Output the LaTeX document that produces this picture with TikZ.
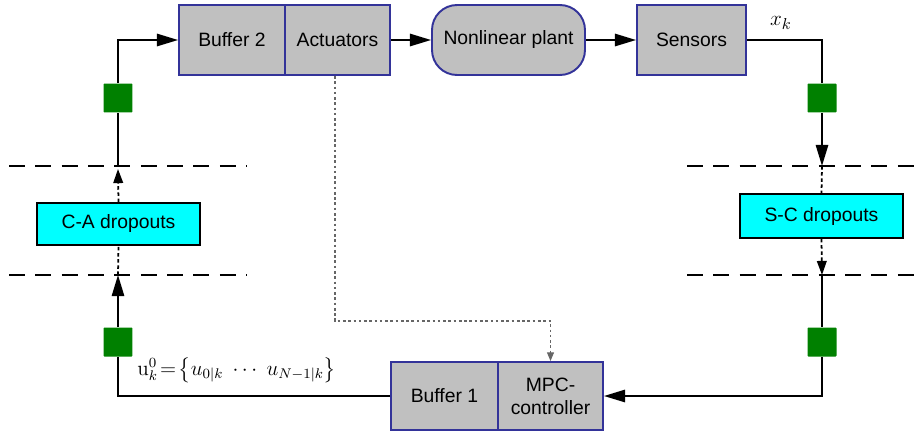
\documentclass[tikz,border=0pt]{standalone}
\usepackage{amsmath}
\usepackage[no-math]{fontspec}
\setmainfont{Liberation Sans}
\usepackage{tikz}
\usetikzlibrary{arrows.meta, calc}
\definecolor{boxgray}{RGB}{192,192,192}
\definecolor{boxblue}{RGB}{51,51,153}
\definecolor{netgreen}{RGB}{0,128,0}
\definecolor{dropcyan}{RGB}{0,255,255}
\tikzstyle{block} = [rectangle, draw=boxblue, fill=boxgray, line width=1.1pt, minimum height=1.4cm, inner sep=2pt, align=center]
\tikzstyle{dropbox} = [rectangle, draw=black, fill=dropcyan, line width=1.1pt, minimum width=3.26cm, minimum height=0.86cm]
\tikzstyle{packet} = [rectangle, fill=netgreen, minimum size=0.58cm, inner sep=0pt, rounded corners=0.5pt]
\tikzstyle{wire} = [line width=1.1pt]
\tikzstyle{arrow} = [line width=1.1pt, -{Triangle[length=12pt,width=7pt]}]
\tikzstyle{lossline} = [line width=1.3pt, dash pattern=on 9pt off 6pt]
\tikzstyle{dropwire} = [line width=1pt, dash pattern=on 2pt off 1.5pt]

\begin{document}
\begin{tikzpicture}[x=0.02cm, y=-0.02cm, font=\fontsize{11}{13}\selectfont]
\useasboundingbox (0,0) rectangle (917,433);

\node[block, minimum width=2.12cm] (buf2) at (232,40) {Buffer 2};
\node[block, minimum width=2.1cm] (act) at (337.5,40) {Actuators};
\node[block, minimum width=3.06cm, rounded corners=0.5cm] (plant) at (508.5,40) {Nonlinear plant};
\node[block, minimum width=2.18cm] (sens) at (691.5,40) {Sensors};
\node[block, minimum width=2.14cm, minimum height=1.36cm] (buf1) at (444.5,396) {Buffer 1};
\node[block, minimum width=2.1cm, minimum height=1.36cm] (mpc) at (550.5,396) {MPC-\\controller};

\node[dropbox, minimum height=0.84cm] (ca) at (118.5,224) {C-A dropouts};
\node[dropbox, minimum height=0.88cm] (sc) at (821.5,216) {S-C dropouts};

\node[packet] (pa1) at (118,98) {};
\node[packet] (pa2) at (118,342) {};
\node[packet] (ps1) at (822,98) {};
\node[packet] (ps2) at (822,342) {};

\coordinate (tl) at (118,166);
\coordinate (bl) at (118,275);
\coordinate (tr) at (822,166);
\coordinate (br) at (822,275);
\coordinate (fb) at (335,321);

\draw[lossline] (9,166) -- (247,166);
\draw[lossline] (9,275) -- (247,275);
\draw[lossline] (687,166) -- (917,166);
\draw[lossline] (687,275) -- (917,275);

\draw[arrow] (act.east) -- (plant.west);
\draw[arrow] (plant.east) -- (sens.west);
\draw[wire] (sens.east) -| (ps1.north);
\draw[arrow] (ps1.south) -- (tr);
\draw[dropwire] (tr) -- (sc.north);
\draw[dropwire, -{Triangle[length=8pt,width=5.5pt]}] (sc.south) -- (br);
\draw[wire] (br) -- (ps2.north);
\draw[arrow] (ps2.south) |- (mpc.east);

\draw[wire] (buf1.west) -| (pa2.south);
\draw[arrow] (pa2.north) -- (bl);
\draw[dropwire] (bl) -- (ca.south);
\draw[dropwire, -{Triangle[length=8pt,width=5.5pt]}] (ca.north) -- ($(tl)+(0,3)$);
\draw[wire] (tl) -- (pa1.south);
\draw[arrow] (pa1.north) |- (buf2.west);

\draw[gray!80!black, line width=0.6pt, dash pattern=on 1.5pt off 1.5pt, -{Triangle[length=5pt,width=4pt]}]
(act.south -| fb) -- (fb) -| (mpc.north);

\node[inner sep=1pt, font=\fontsize{13}{15}\selectfont] (xk) at (781,23) {$x_k$};
\node[inner sep=0pt, anchor=west, font=\fontsize{12}{14}\selectfont] (uk) at (137,370)
{$\mathrm{u}_k^0\!=\!\left\{u_{0|k}\;\cdots\;u_{N-1|k}\right\}$};
\end{tikzpicture}
\end{document}
